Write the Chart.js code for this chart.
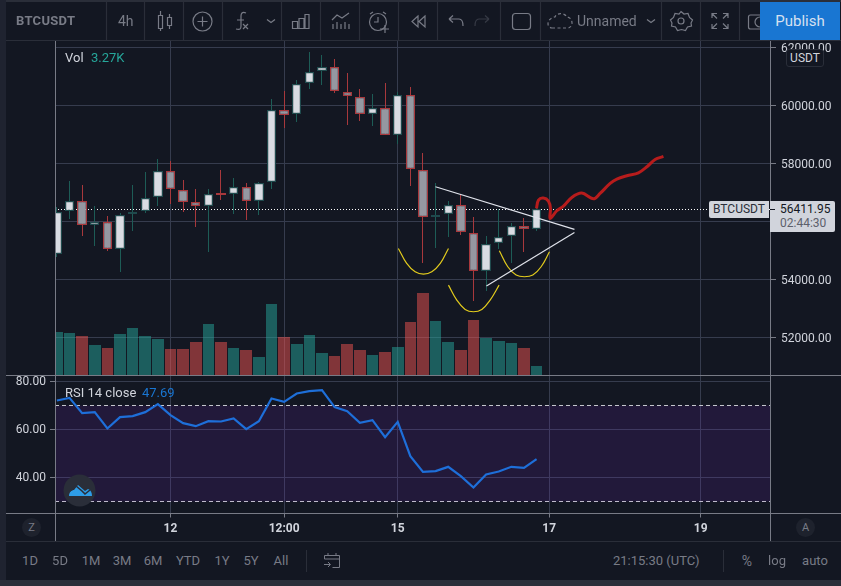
<!DOCTYPE html>
<html>
<head>
<meta charset="utf-8">
<title>BTCUSDT</title>
<script src="https://cdn.jsdelivr.net/npm/chart.js@4/dist/chart.umd.min.js"></script>
<style>
  html, body { margin: 0; padding: 0; background: #131722; width: 841px; height: 586px; overflow: hidden; }
  body { position: relative; font-family: Roboto, sans-serif; }
  canvas { position: absolute; }
  .t { position: absolute; white-space: nowrap; line-height: 16px; height: 16px; }
  .c { transform: translateX(-50%); }
  .bar { position: absolute; background: #2a2e39; }
  .line { position: absolute; background: #787b86; }
  .mute { color: #787b86; font-size: 13px; }
  .round { position: absolute; width: 19px; height: 19px; border-radius: 50%; background: #1e222d; color: #787b86;
           font-size: 11px; text-align: center; line-height: 19px; }
</style>
</head>
<body>
<canvas id="mainChart" style="left:55px;top:41px" width="786" height="335"></canvas>
<canvas id="rsiChart" style="left:0;top:376px" width="771" height="165"></canvas>

<!-- frame -->
<div class="bar" style="left:0;top:0;width:841px;height:2px"></div>
<div class="bar" style="left:0;top:0;width:6px;height:586px;background:#1f2330"></div>
<div class="bar" style="left:6px;top:40px;width:835px;height:1px"></div>
<div class="bar" style="left:6px;top:541px;width:835px;height:1px"></div>
<div class="bar" style="left:0;top:580px;width:841px;height:6px"></div>
<div class="line" style="left:55px;top:41px;width:1px;height:500px"></div>
<div class="line" style="left:770px;top:41px;width:1px;height:500px"></div>
<div class="line" style="left:6px;top:375px;width:835px;height:1px"></div>
<div class="line" style="left:6px;top:513px;width:835px;height:1px"></div>

<!-- top toolbar -->
<svg style="position:absolute;left:0;top:0" width="841" height="41" fill="none" stroke="#787b86" stroke-width="1.2">
  <g stroke="#2a2e39">
    <path d="M106.5 2V40M144.5 2V40M183.5 2V40M222.5 2V40M281.5 2V40M320.5 2V40M359.5 2V40M398.5 2V40M437.5 2V40M500.5 2V40M540.5 2V40M661.5 2V40M700.5 2V40M739.5 2V40"/>
  </g>
  <path d="M158.5 15.5h4v13h-4zM160.5 11v4.5M160.5 28.5V31M167.5 17.5h4v8h-4zM169.5 14v3.5M169.5 25.5V29"/>
  <circle cx="202.5" cy="21.5" r="9.5"/><path d="M197.5 21.5h10M202.5 16.5v10"/>
  <path d="M246 13c-4-2-5 1-5 3v10c0 3-1 4-5 3M237 20h7M243 24l5 5M248 24l-5 5"/>
  <path d="M267 19.5l4 3 4-3"/>
  <path d="M292.5 28.5v-7h5v7h-5zM299 28.5v-10h5v10zM305 28.5v-14h4v14zM292 28.5h17"/>
  <path d="M332 20l5-5 5 3 7-5M333 29v-5M337 29v-7M341 29v-5M345 29v-7M349 29v-5"/>
  <circle cx="378" cy="22" r="8.5"/><path d="M378 17v5h-4M370 14l3-2M386 14l-3-2M380 29h9M385 25v8"/>
  <path d="M418 16l-6 5.500 6 5.500zM425 16l-6 5.500 6 5.500z"/>
  <path d="M449 19h10c3 0 4 3 4 7M449 19l4-3.500M449 19l4 3.500"/>
  <path d="M489 19h-10c-3 0-4 3-4 7M489 19l-4-3.500M489 19l-4 3.500" stroke="#363a45"/>
  <rect x="512.500" y="13.500" width="18" height="16" rx="3"/>
  <path d="M552 28h15c4 0 5-3 5-5 0-4-3-6-5-6-2-4-10-5-12 0-3 0-7 3-7 7 0 2 2 4 4 4z" stroke-dasharray="3 2.500"/>
  <path d="M647 19.500l4 3 4-3"/>
  <circle cx="681" cy="21" r="3"/><path d="M681 11.500l3 2.500 4-.5 1.500 4 3 2.500-1.500 3 .5 3-4 1-2 3.500-4-1-4 1-2-3.500-4-1 .5-3-1.500-3 3-2.500 1.500-4 4 .5z"/>
  <path d="M712 18v-4.500h5M723 13.500h5V18M712 24v4.500h5M728 24v4.500h-5M712 13.500l5 5M728 13.500l-5 5M712 28.500l5-5M728 28.500l-5-5"/>
  <rect x="748.500" y="15" width="20" height="14" rx="2"/><circle cx="760" cy="22" r="5"/>
</svg>
<div class="t" style="left:16px;top:13px;font-size:13px;font-weight:bold;letter-spacing:0.3px;color:#787b86">BTCUSDT</div>
<div class="t" style="left:118px;top:13px;font-size:14px;color:#787b86">4h</div>
<div class="t" style="left:577px;top:13px;font-size:14px;color:#787b86">Unnamed</div>
<div style="position:absolute;left:760px;top:2px;width:80px;height:38px;background:#1976d2;color:#d6e0f0;font-size:15px;line-height:38px;text-align:center">Publish</div>

<!-- chart captions -->
<div class="t" style="left:65px;top:50px;font-size:13px;color:#d1d4dc">Vol</div>
<div class="t" style="left:91px;top:50px;font-size:13px;color:#26a69a">3.27K</div>
<div class="t" style="left:65px;top:385px;font-size:13px;color:#d1d4dc">RSI 14 close</div>
<div class="t" style="left:142px;top:385px;font-size:13px;color:#1976d2">47.69</div>

<!-- price labels -->
<div class="t" style="left:786px;top:49px;width:36px;height:16px;background:#131722;border:1px solid #2a2e39;border-radius:3px;font-size:12px;text-align:center;color:#d1d4dc">USDT</div>
<div class="t" style="left:709px;top:201px;width:60px;height:17px;line-height:17px;background:#d1d4dc;border-radius:2px 0 0 2px;font-size:12px;text-align:center;color:#2a2e39">BTCUSDT</div>
<div style="position:absolute;left:770px;top:201px;width:65px;height:31px;background:#d1d4dc;border-radius:0 2px 2px 0"></div>
<div class="bar" style="left:770px;top:209px;width:5px;height:1px;background:#131722"></div>
<div class="t" style="left:780px;top:201px;font-size:12px;color:#131722">56411.95</div>
<div class="t" style="left:780px;top:215px;font-size:12px;color:#5d606b">02:44:30</div>

<!-- logo -->
<svg style="position:absolute;left:63px;top:474px" width="33" height="33">
  <circle cx="16.500" cy="16.500" r="16" fill="#2a2e39"/>
  <path d="M6 22c0-4 3-6 5-6l4-5 7 6 3-2c3 1 4 4 4 7z" fill="#2e9de8"/>
  <path d="M7 17l6-5 6 5 3 3 5-4" fill="none" stroke="#2a2e39" stroke-width="1.600"/>
</svg>
<div class="round" style="left:22px;top:518px">Z</div>
<div class="round" style="left:796px;top:518px">A</div>

<!-- bottom toolbar -->
<div class="t mute c" style="left:30px;top:553px">1D</div>
<div class="t mute c" style="left:60px;top:553px">5D</div>
<div class="t mute c" style="left:91px;top:553px">1M</div>
<div class="t mute c" style="left:122px;top:553px">3M</div>
<div class="t mute c" style="left:153px;top:553px">6M</div>
<div class="t mute c" style="left:188px;top:553px">YTD</div>
<div class="t mute c" style="left:222px;top:553px">1Y</div>
<div class="t mute c" style="left:251px;top:553px">5Y</div>
<div class="t mute c" style="left:281px;top:553px">All</div>
<div class="bar" style="left:306px;top:550px;width:1px;height:22px"></div>
<svg style="position:absolute;left:323px;top:552px" width="18" height="18" fill="none" stroke="#787b86">
  <path d="M1.500 7V3.500h15v12h-7M1.500 7h15M5 1v3M13 1v3M1 12.500h6M5 10l2.500 2.500L5 15"/>
</svg>
<div class="t mute" style="left:613px;top:553px">21:15:30 (UTC)</div>
<div class="bar" style="left:723px;top:550px;width:1px;height:22px"></div>
<div class="t mute c" style="left:747px;top:553px;font-size:14px">%</div>
<div class="t mute c" style="left:777px;top:553px">log</div>
<div class="t mute c" style="left:815px;top:553px">auto</div>

<script>
// 4h candles, index 0 is the first one on screen
const candleOpen = [54862, 56345, 56713, 55874, 55989, 55035, 56241, 56345, 56828, 57747, 57092, 56655, 56517, 56966, 56931, 57195, 56690, 57345, 59851, 59690, 60759, 61184, 61333, 60471, 60299, 59690, 59920, 58966, 60368, 57782, 56150, 56253, 56575, 55610, 54276, 55241, 55483, 55851, 55724];
const candleHigh = [56483, 57379, 57241, 56529, 56184, 56276, 57241, 57690, 58149, 58081, 57414, 57104, 57104, 57770, 57483, 57310, 57356, 60218, 60494, 60874, 61839, 61736, 61598, 61103, 60552, 60379, 60759, 60471, 60621, 58345, 57310, 56690, 56920, 56138, 55494, 56414, 55931, 56115, 56448];
const candleLow = [54782, 56092, 55494, 55150, 54989, 54253, 55678, 56276, 56529, 56598, 56333, 55816, 54954, 56736, 56264, 56046, 56230, 57126, 59218, 59437, 60575, 60713, 60437, 59322, 59471, 59299, 58966, 58678, 57230, 54575, 55069, 55471, 55540, 53265, 53609, 55035, 54575, 54954, 55667];
const candleClose = [56333, 56713, 55862, 55989, 55035, 56230, 56333, 56816, 57747, 57104, 56655, 56517, 56954, 56920, 57195, 56690, 57333, 59851, 59678, 60747, 61161, 61322, 60483, 60310, 59690, 59920, 58966, 60368, 57793, 56138, 56218, 56563, 55621, 54276, 55230, 55460, 55839, 55724, 56411.95];
const volumeK = [13.9, 13.6, 12.7, 9.8, 8.9, 13.3, 15.2, 12.7, 11.7, 8.5, 8.5, 10.8, 16.5, 10.8, 8.9, 8.2, 6.0, 22.8, 12.3, 10.1, 13.0, 7.3, 6.3, 10.1, 8.2, 6.6, 7.6, 9.2, 17.1, 26.3, 17.4, 10.8, 8.2, 17.7, 12.0, 11.1, 10.4, 8.9, 3.27];
const rsiValues = [72.08, 73.19, 66.81, 67.22, 60.42, 65.14, 65.56, 67.22, 70.56, 65.97, 62.64, 61.39, 63.47, 63.33, 64.58, 60.14, 63.47, 72.92, 71.53, 75.0, 75.97, 76.39, 69.31, 67.64, 62.78, 63.89, 56.81, 63.19, 48.89, 42.36, 42.64, 44.44, 40.56, 35.83, 41.25, 42.5, 44.44, 44.03, 47.69];

const lastPrice = 56411.95;
const priceTicks = [52000, 54000, 56000, 58000, 60000, 62000];
const rsiTicks = [40, 60, 80];
const timeTickIndex = [9, 18, 27, 39, 51];
const timeTickLabels = ["12", "12:00", "15", "17", "19"];

// hand drawn lines on the chart: bar index / price pairs
const arcLeftX = [27.05, 27.71, 28.38, 29.04, 29.70, 30.37, 31.02];
const arcLeftY = [55069, 54552, 54264, 54184, 54264, 54552, 55069];
const arcMidX = [31.02, 31.68, 32.34, 33.0, 33.66, 34.32, 35.03];
const arcMidY = [53805, 53288, 52966, 52885, 52966, 53288, 53805];
const arcRightX = [35.05, 35.72, 36.38, 37.04, 37.7, 38.36, 39.02];
const arcRightY = [54989, 54437, 54150, 54092, 54150, 54437, 54954];
const topLineX = [29.99, 41.0];
const topLineY = [57195, 55724];
const lowLineX = [34.03, 41.0];
const lowLineY = [53770, 55621];
const redLineX = [37.99, 38.15, 38.54, 38.94, 39.10, 39.07, 39.60, 40.13, 40.79, 41.58, 42.50, 43.03, 43.83, 44.36, 45.15, 46.07, 46.74, 47.39, 48.05];
const redLineY = [56448, 56736, 56805, 56701, 56448, 56104, 56368, 56529, 56828, 56977, 56782, 56966, 57310, 57460, 57575, 57678, 57885, 58138, 58241];

const xMin = -0.15, xMax = 56.57;
const gridColor = "#363c4e";
const textColor = "#d1d4dc";

const isUp = candleOpen.map((o, i) => candleClose[i] >= o);
const pairs = (xs, ys) => xs.map((x, i) => ({ x: x, y: ys[i] }));

function drawing(xs, ys, color, width, tension) {
  return {
    type: "line", data: pairs(xs, ys), yAxisID: "y", order: 0,
    borderColor: color, borderWidth: width, tension: tension,
    pointRadius: 0, fill: false
  };
}

// no extra room around the plot for half tick labels
function noMargins(axis) {
  axis.paddingTop = 0;
  axis.paddingBottom = 0;
  axis.paddingLeft = 0;
  axis.paddingRight = 0;
}

function timeAxis(showLabels, height) {
  return {
    type: "linear", min: xMin, max: xMax, offset: false,
    afterBuildTicks: axis => { axis.ticks = timeTickIndex.map(v => ({ value: v })); },
    afterFit: axis => { axis.height = height; noMargins(axis); },
    grid: { color: gridColor, drawTicks: showLabels, tickLength: 4, tickColor: "#787b86", offset: false },
    border: { display: false },
    ticks: {
      display: showLabels, color: textColor, maxRotation: 0, padding: 4, autoSkip: false,
      font: { family: "Roboto", size: 12, weight: "bold" },
      callback: v => timeTickLabels[timeTickIndex.indexOf(v)]
    }
  };
}

// keep candle and volume edges on whole pixels so wicks stay sharp
const snapBars = {
  id: "snapBars",
  beforeDatasetDraw(chart, args) {
    if (args.meta.type !== "bar") return;
    args.meta.data.forEach(el => {
      const half = el.width / 2;
      const left = Math.round(el.x - half);
      const right = Math.round(el.x + half);
      el.x = (left + right) / 2;
      el.width = right - left;
      el.y = Math.round(el.y);
      el.base = Math.round(el.base);
    });
  }
};

new Chart(document.getElementById("mainChart"), {
  type: "bar",
  plugins: [snapBars],
  data: {
    datasets: [
      drawing(redLineX, redLineY, "#b71c1c", 3, 0.35),
      drawing(topLineX, topLineY, "#e0e3eb", 1.2, 0),
      drawing(lowLineX, lowLineY, "#e0e3eb", 1.2, 0),
      drawing(arcLeftX, arcLeftY, "#e2cb1d", 1.2, 0.4),
      drawing(arcMidX, arcMidY, "#e2cb1d", 1.2, 0.4),
      drawing(arcRightX, arcRightY, "#e2cb1d", 1.2, 0.4),
      {
        // candle bodies
        data: candleOpen.map((o, i) => ({ x: i, y: [o, candleClose[i]] })),
        yAxisID: "y", order: 1, grouped: false, barThickness: 9.4, borderWidth: 1.2, borderSkipped: false,
        inflateAmount: 0,
        backgroundColor: isUp.map(u => u ? "#d9dce3" : "#9598a1"),
        borderColor: isUp.map(u => u ? "#1f4a4d" : "#a8383c")
      },
      {
        // candle wicks
        data: candleLow.map((l, i) => ({ x: i, y: [l, candleHigh[i]] })),
        yAxisID: "y", order: 2, grouped: false, barThickness: 1, borderWidth: 0, inflateAmount: 0,
        backgroundColor: isUp.map(u => u ? "#1d5c56" : "#a8383c")
      },
      {
        type: "line", data: [{ x: xMin, y: lastPrice }, { x: xMax, y: lastPrice }], yAxisID: "y", order: 3,
        borderColor: "#ffffff", borderWidth: 1, borderDash: [1, 2], pointRadius: 0
      },
      {
        // volume
        data: volumeK.map((v, i) => ({ x: i, y: v })),
        yAxisID: "yVol", order: 4, grouped: false, barThickness: 11.6, inflateAmount: 0,
        backgroundColor: isUp.map(u => u ? "rgba(38,166,154,0.5)" : "rgba(239,83,80,0.5)")
      }
    ]
  },
  options: {
    responsive: false, animation: false,
    layout: { padding: 0 },
    plugins: { legend: { display: false }, tooltip: { enabled: false } },
    scales: {
      x: timeAxis(false, 0),
      y: {
        position: "right", min: 50670, max: 62222,
        afterBuildTicks: axis => { axis.ticks = priceTicks.map(v => ({ value: v })); },
        afterFit: axis => { axis.width = 70; noMargins(axis); },
        grid: { color: gridColor, tickLength: 5, tickColor: "#787b86" },
        border: { display: false },
        ticks: {
          color: textColor, padding: 5, labelOffset: 1.5, font: { family: "Roboto", size: 12 },
          callback: v => v.toFixed(2)
        }
      },
      yVol: { display: false, min: 0, max: 105.8 }
    }
  }
});

new Chart(document.getElementById("rsiChart"), {
  type: "line",
  data: {
    datasets: [
      {
        data: rsiValues.map((v, i) => ({ x: i, y: v })), order: 0,
        borderColor: "#1e6fd9", borderWidth: 2.2, pointRadius: 0, fill: false
      },
      {
        data: [{ x: xMin, y: 70 }, { x: xMax, y: 70 }], order: 1,
        borderColor: "#c8cad0", borderWidth: 1, borderDash: [4, 3], pointRadius: 0,
        fill: "+1", backgroundColor: "rgba(119,43,201,0.15)"
      },
      {
        data: [{ x: xMin, y: 30 }, { x: xMax, y: 30 }], order: 2,
        borderColor: "#c8cad0", borderWidth: 1, borderDash: [4, 3], pointRadius: 0, fill: false
      }
    ]
  },
  options: {
    responsive: false, animation: false,
    layout: { padding: 0 },
    plugins: { legend: { display: false }, tooltip: { enabled: false } },
    scales: {
      x: timeAxis(true, 27.5),
      y: {
        position: "left", min: 25, max: 82.29,
        afterBuildTicks: axis => { axis.ticks = rsiTicks.map(v => ({ value: v })); },
        afterFit: axis => { axis.width = 55; noMargins(axis); },
        grid: { color: gridColor, tickLength: 5, tickColor: "#787b86" },
        border: { display: false },
        ticks: {
          color: textColor, padding: 4, labelOffset: 1, font: { family: "Roboto", size: 12 },
          callback: v => v.toFixed(2)
        }
      }
    }
  }
});
</script>
</body>
</html>
